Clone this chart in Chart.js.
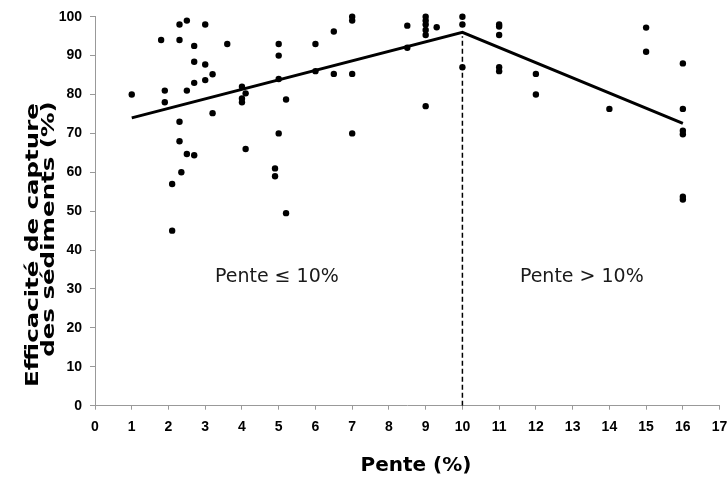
<!DOCTYPE html>
<html lang="fr">
<head>
<meta charset="utf-8">
<title>Efficacité de capture des sédiments</title>
<script src="https://cdn.jsdelivr.net/npm/chart.js@4.4.1/dist/chart.umd.min.js"></script>
<style>
  html, body { margin: 0; padding: 0; background: #fff; }
  #wrap { width: 728px; height: 479px; position: relative; }
</style>
</head>
<body>
<div id="wrap"><canvas id="penteChart"></canvas></div>
<script>
// Mesures : pente (%) et efficacité de capture (%)
const penteX = [
  1, 1.8, 1.9, 1.9, 2.1, 2.1, 2.3, 2.3, 2.3, 2.3, 2.35, 2.5, 2.5, 2.5,
  2.7, 2.7, 2.7, 2.7, 3, 3, 3, 3.2, 3.2, 3.6, 4, 4.1, 4, 4, 4.1,
  5, 5, 5, 5, 4.9, 4.9, 5.2, 5.2, 6, 6, 6.5, 6.5, 7, 7, 7, 7,
  8.5, 8.5, 9, 9, 9, 9, 9, 9, 9.3, 10, 10, 10,
  11, 11, 11, 11, 11, 12, 12, 14, 15, 15, 16, 16, 16, 16, 16, 16
];
const efficaciteY = [
  80, 94, 81, 78, 57, 45, 98, 94, 73, 68, 60, 99, 81, 64.7,
  92.5, 88.4, 83, 64.4, 98, 87.7, 83.7, 85.2, 75.2, 93, 82, 80.3, 79, 78, 66,
  93, 90, 84, 70, 61, 59, 78.7, 49.5, 93, 86, 96.2, 85.3, 100, 99, 85.3, 70,
  97.7, 92, 100, 99, 98, 96.6, 95.3, 77, 97.3, 100, 98, 87,
  98, 97.5, 95.3, 87, 86, 85.3, 80, 76.3, 97.2, 91, 88, 76.3, 70.7, 69.8, 53.7, 53
];

// Droites de tendance (deux segments) et seuil à 10 %
const tendanceX = [1, 10, 16];
const tendanceY = [74, 96, 72.6];
const seuilX = [10, 10];
const seuilY = [0, 95];

// Textes
const zonesTexte = ['Pente \u2264 10%', 'Pente > 10%'];
const titreX = 'Pente (%)';
const titreY = ['Efficacité de capture', 'des sédiments (%)'];

const toPoints = (xs, ys) => xs.map((v, i) => ({ x: v, y: ys[i] }));

// Textes dessinés sur le canvas (zones + titres des axes)
const textesPlugin = {
  id: 'textes',
  afterDraw(chart) {
    const { ctx, scales: { x, y } } = chart;
    ctx.save();
    ctx.fillStyle = '#1a1a1a';
    ctx.textAlign = 'center';
    ctx.textBaseline = 'middle';

    ctx.font = '19px "DejaVu Sans"';
    ctx.fillText(zonesTexte[0], x.getPixelForValue(4.95), y.getPixelForValue(33));
    ctx.fillText(zonesTexte[1], x.getPixelForValue(13.25), y.getPixelForValue(33));

    ctx.fillStyle = '#000';
    ctx.font = 'bold 20px "DejaVu Sans"';
    ctx.fillText(titreX, 416, 466);

    // titre vertical, deux lignes
    ctx.font = 'bold 18px "DejaVu Sans"';
    const lignes = [[33, 245], [49, 229]];
    titreY.forEach((t, i) => {
      ctx.save();
      ctx.translate(lignes[i][0], lignes[i][1]);
      ctx.rotate(-Math.PI / 2);
      ctx.scale(1.36, 1);
      ctx.fillText(t, 0, 0);
      ctx.restore();
    });
    ctx.restore();
  }
};

document.addEventListener('DOMContentLoaded', () => {
  Chart.defaults.font.family = '"DejaVu Sans", sans-serif';
  Chart.defaults.color = '#000';

  const tickFont = { family: '"Liberation Sans", Arial, sans-serif', size: 14, weight: 'bold' };

  new Chart(document.getElementById('penteChart'), {
    type: 'scatter',
    data: {
      datasets: [
        {
          label: 'Mesures',
          data: toPoints(penteX, efficaciteY),
          backgroundColor: '#000',
          borderWidth: 0,
          pointRadius: 3.2,
          clip: false
        },
        {
          label: 'Tendance',
          data: toPoints(tendanceX, tendanceY),
          showLine: true,
          borderColor: '#000',
          borderWidth: 3,
          pointRadius: 0,
          fill: false,
          clip: false
        },
        {
          label: 'Seuil 10 %',
          data: toPoints(seuilX, seuilY),
          showLine: true,
          borderColor: '#000',
          borderWidth: 1.5,
          borderDash: [5, 3],
          pointRadius: 0,
          fill: false
        }
      ]
    },
    options: {
      responsive: true,
      maintainAspectRatio: false,
      animation: false,
      layout: { padding: { top: 16.7, right: 8.4, left: 0, bottom: 0 } },
      plugins: {
        legend: { display: false },
        tooltip: { enabled: false }
      },
      scales: {
        x: {
          type: 'linear',
          min: 0,
          max: 17,
          ticks: { stepSize: 1, padding: 9, font: tickFont },
          grid: { drawOnChartArea: false, tickLength: 4, color: '#999' },
          border: { color: '#999' },
          afterFit(scale) {
            scale.height = 73.3;
            scale.paddingLeft = 0;
            scale.paddingRight = 0;
          }
        },
        y: {
          min: 0,
          max: 100,
          ticks: { stepSize: 10, padding: 8, font: tickFont },
          grid: { drawOnChartArea: false, tickLength: 5, color: '#999' },
          border: { color: '#999' },
          afterFit(scale) {
            scale.width = 95;
          }
        }
      }
    },
    plugins: [textesPlugin]
  });
});
</script>
</body>
</html>
